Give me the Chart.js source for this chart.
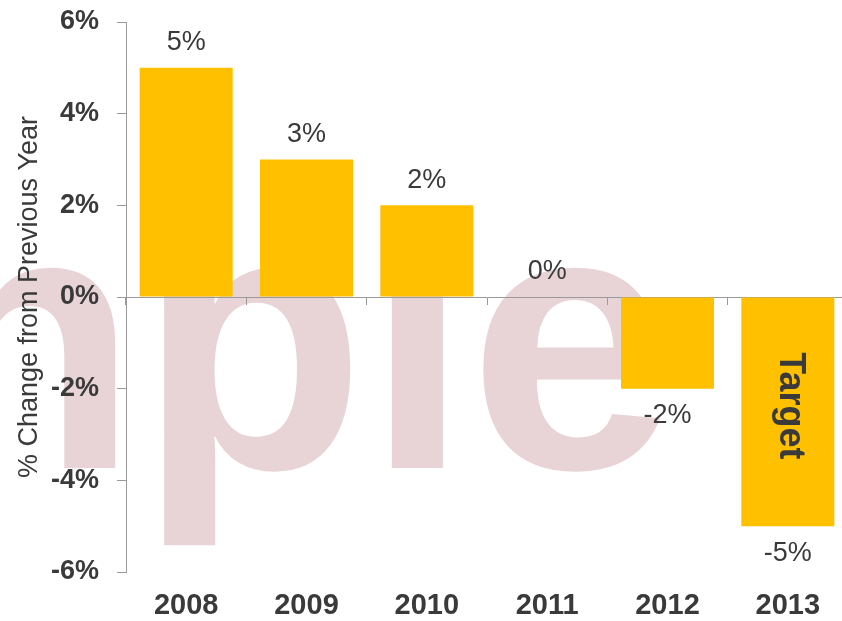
<!DOCTYPE html>
<html>
<head>
<meta charset="utf-8">
<script src="https://cdn.jsdelivr.net/npm/chart.js@4/dist/chart.umd.min.js"></script>
<style>
	html, body { margin: 0; padding: 0; background: #fff; overflow: hidden; }
	#wrap { width: 850px; height: 621px; }
</style>
</head>
<body>
<div id="wrap"><canvas id="chart" width="850" height="621"></canvas></div>
<script>
// data
const years = ["2008", "2009", "2010", "2011", "2012", "2013"];
const changes = [5, 3, 2, 0, -2, -5];
const notes = ["", "", "", "", "", "Target"];
const yTicks = [-6, -4, -2, 0, 2, 4, 6];

const textColor = "#3a3a3a";
const axisColor = "#9a9a9a";
const fontName = "'Liberation Sans', Arial, sans-serif";

// faint watermark behind everything
const watermark = {
	id: "watermark",
	beforeDraw(chart) {
		const ctx = chart.ctx;
		ctx.save();
		ctx.fillStyle = "rgb(232, 212, 215)";
		ctx.font = "bold 372px " + fontName;
		ctx.textBaseline = "alphabetic";
		ctx.fillText("np\u0131e", -89, 468);
		ctx.restore();
	},
};

// value labels above / below bars and the rotated note inside
const barLabels = {
	id: "barLabels",
	afterDatasetsDraw(chart) {
		const ctx = chart.ctx;
		const meta = chart.getDatasetMeta(0);
		ctx.save();
		meta.data.forEach((bar, i) => {
			const v = changes[i];
			ctx.fillStyle = textColor;
			ctx.font = "27px " + fontName;
			ctx.textAlign = "center";
			ctx.textBaseline = "middle";
			if (v >= 0) {
				ctx.fillText(v + "%", bar.x, bar.y - 25);
			} else {
				ctx.fillText(v + "%", bar.x, bar.y + 27);
			}
			if (notes[i]) {
				ctx.save();
				ctx.translate(bar.x + 2, (bar.y + bar.base) / 2 - 6);
				ctx.rotate(Math.PI / 2);
				ctx.font = "bold 36px " + fontName;
				ctx.fillText(notes[i], 0, 0);
				ctx.restore();
			}
		});
		ctx.restore();
	},
};

const ctx = document.getElementById("chart").getContext("2d");
const myChart = new Chart(ctx, {
	type: "bar",
	data: {
		labels: years,
		datasets: [
			{
				data: changes,
				backgroundColor: "#FFC000",
				borderWidth: 0,
				barPercentage: 0.773,
				categoryPercentage: 1,
			},
		],
	},
	options: {
		responsive: false,
		animation: false,
		devicePixelRatio: 1,
		layout: {
			padding: { top: 22, right: 2, bottom: 0, left: 0 },
		},
		plugins: {
			legend: { display: false },
			tooltip: { enabled: false },
		},
		scales: {
			x: {
				type: "category",
				position: "bottom",
				offset: true,
				grid: { display: false, drawTicks: false },
				border: { display: false },
				ticks: {
					color: textColor,
					font: { family: fontName, size: 29, weight: "bold" },
					padding: 17,
				},
				afterFit(scale) {
					scale.height = 49;
				},
			},
			x2: {
				type: "category",
				labels: years,
				position: { y: 0 },
				offset: true,
				grid: {
					offset: true,
					drawOnChartArea: false,
					drawTicks: true,
					tickLength: 7,
					color: axisColor,
				},
				border: { display: true, color: axisColor, width: 1 },
				ticks: { display: false },
			},
			y: {
				min: -6,
				max: 6,
				afterBuildTicks(scale) {
					scale.ticks = yTicks.map((v) => ({ value: v }));
				},
				grid: {
					drawOnChartArea: false,
					drawTicks: true,
					tickLength: 9,
					color: axisColor,
				},
				border: { display: true, color: axisColor, width: 1 },
				ticks: {
					color: textColor,
					font: { family: fontName, size: 27, weight: "bold" },
					padding: 18,
					callback: (v) => v + "%",
				},
				title: {
					display: true,
					text: "% Change from Previous Year",
					color: textColor,
					font: { family: fontName, size: 27 },
					padding: { top: 13, bottom: 0 },
				},
				afterFit(scale) {
					scale.width = 126;
					scale.paddingTop = 0;
					scale.paddingBottom = 0;
				},
			},
		},
	},
	plugins: [watermark, barLabels],
});
</script>
</body>
</html>
